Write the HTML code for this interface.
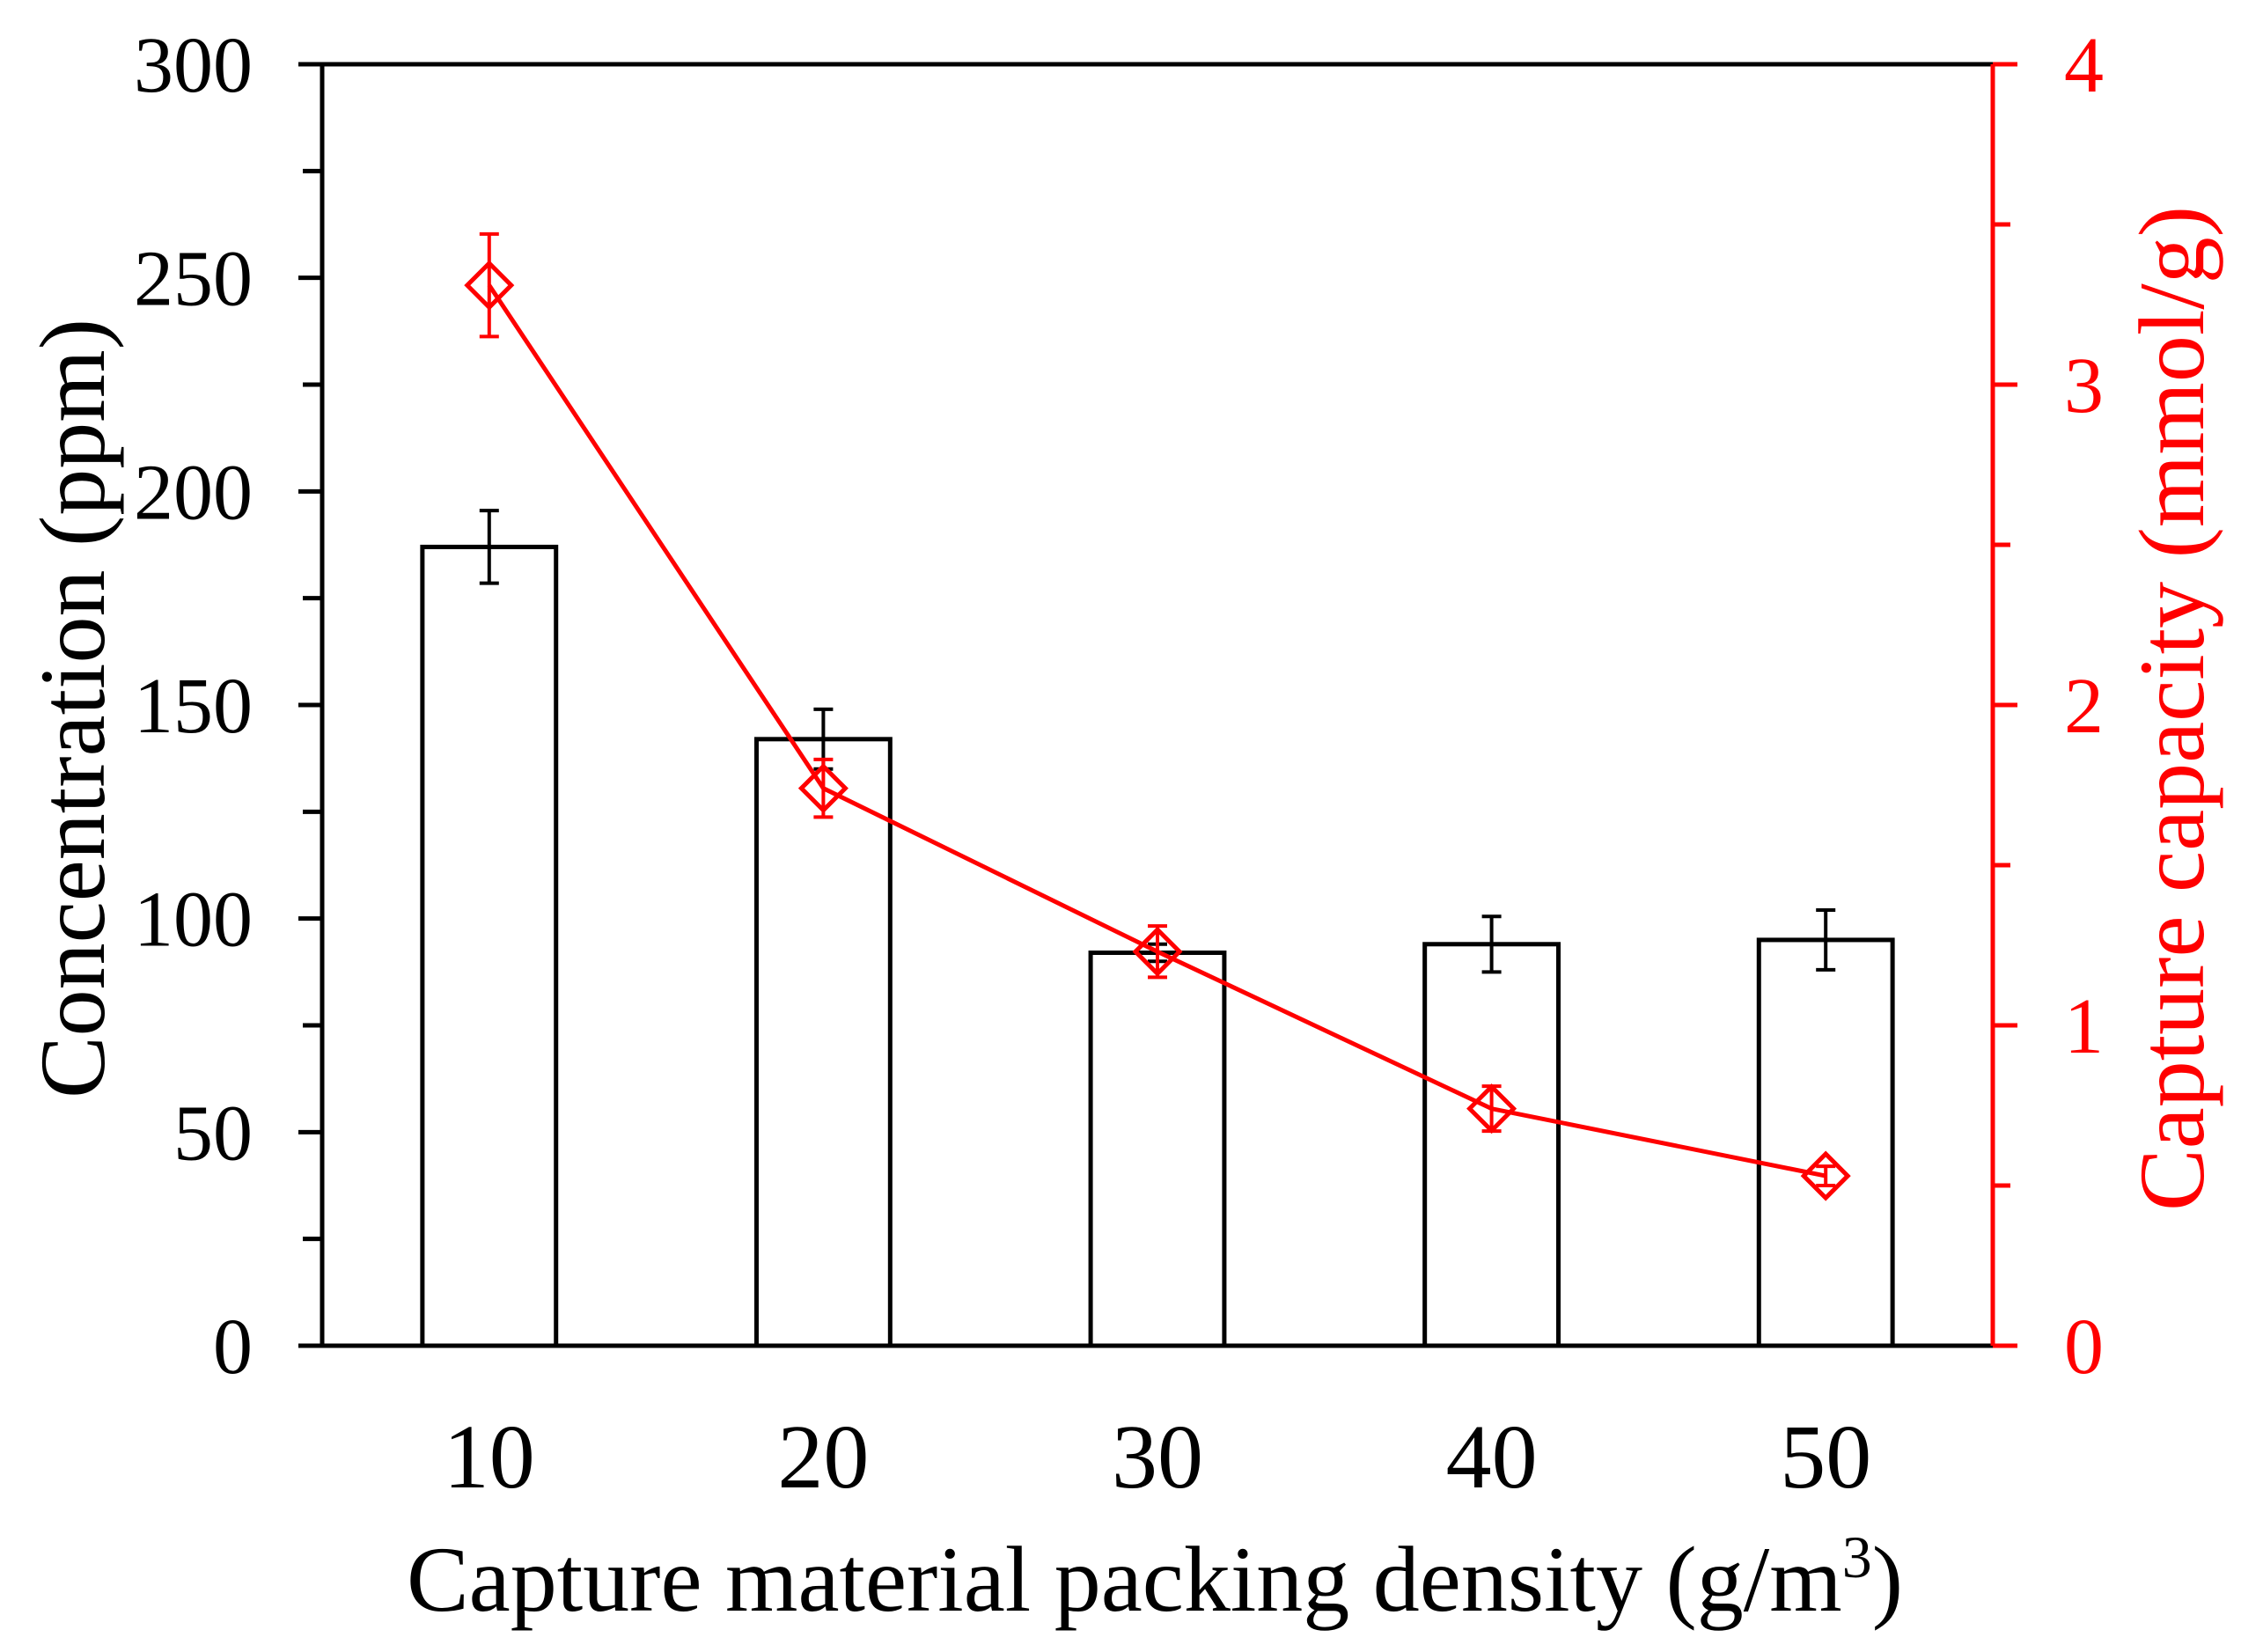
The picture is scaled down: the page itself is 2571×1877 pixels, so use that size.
<!DOCTYPE html>
<html><head><meta charset="utf-8"><style>html,body{margin:0;padding:0;background:#fff}svg{display:block}</style></head>
<body>
<svg id="chart" width="2571" height="1877" viewBox="0 0 2571 1877" xmlns="http://www.w3.org/2000/svg" font-family="'Liberation Serif', serif" style="position:absolute;left:0;top:0">
</svg>
<script>
const categories = ["10","20","30","40","50"];
const concValues = [187, 142, 92, 94, 95];
const concErrors = [8.5, 7, 2, 6.5, 7];
const capValues = [3.31, 1.74, 1.23, 0.74, 0.53];
const capErrors = [0.16, 0.09, 0.08, 0.07, 0.03];
const leftTicks = [0,50,100,150,200,250,300];
const rightTicks = [0,1,2,3,4];

const L=366,R=2264,T=73,B=1529;
const svg=document.getElementById('chart');
const NS='http://www.w3.org/2000/svg';
function mk(tag,attrs,parent){const e=document.createElementNS(NS,tag);for(const k in attrs)e.setAttribute(k,attrs[k]);(parent||svg).appendChild(e);return e;}
const band=(R-L)/categories.length;
const xc=i=>L+(i+0.5)*band;
const yL=v=>B-(v/300)*(B-T);
const yR=v=>B-(v/4)*(B-T);

categories.forEach((c,i)=>{
  const w=band*0.4, y=yL(concValues[i]);
  const r=mk('rect',{x:xc(i)-w/2,y:y,width:w,height:B-y,fill:'#fff',stroke:'#000','stroke-width':5});
  
  
  const e1=yL(concValues[i]+concErrors[i]), e2=yL(concValues[i]-concErrors[i]);
  const g=mk('path',{d:`M${xc(i)},${e1}V${e2}M${xc(i)-11},${e1}H${xc(i)+11}M${xc(i)-11},${e2}H${xc(i)+11}`,stroke:'#000','stroke-width':4,fill:'none'});
  
  
});

const fr=mk('path',{d:`M${L},${T}H${R}M${L},${T}V${B}H${R}`,stroke:'#000','stroke-width':5,fill:'none'});


const ra=mk('line',{x1:R,y1:T,x2:R,y2:B,stroke:'#ff0000','stroke-width':5});



for(let v=0;v<=300;v+=25){
  const major=v%50===0;
  const t=mk('line',{x1:L-(major?27:22),x2:L,y1:yL(v),y2:yL(v),stroke:'#000','stroke-width':5});
  
  
}
leftTicks.forEach(v=>{
  const t=mk('text',{x:287,y:yL(v)+31,'text-anchor':'end','font-size':90,fill:'#000'});
  t.textContent=v;
  
  
});
for(let v=0;v<=4;v+=0.5){
  const major=v%1===0;
  const t=mk('line',{x1:R,x2:R+(major?28:20),y1:yR(v),y2:yR(v),stroke:'#ff0000','stroke-width':5});
  
  
}
rightTicks.forEach(v=>{
  const t=mk('text',{x:2345,y:yR(v)+31,'text-anchor':'start','font-size':90,fill:'#ff0000'});
  t.textContent=v;
  
  
});
categories.forEach((c,i)=>{
  const t=mk('text',{x:xc(i),y:1690,'text-anchor':'middle','font-size':104,fill:'#000'});
  t.textContent=c;
  
  
});

const pts=capValues.map((v,i)=>`${xc(i)},${yR(v)}`).join(' ');
const pl=mk('polyline',{points:pts,fill:'none',stroke:'#ff0000','stroke-width':5});


capValues.forEach((v,i)=>{
  const x=xc(i),y=yR(v),e1=yR(v+capErrors[i]),e2=yR(v-capErrors[i]);
  const eb=mk('path',{d:`M${x},${e1}V${e2}M${x-11},${e1}H${x+11}M${x-11},${e2}H${x+11}`,stroke:'#ff0000','stroke-width':4,fill:'none'});
  
  
  const d=25;
  const m=mk('path',{d:`M${x},${y-d}L${x+d},${y}L${x},${y+d}L${x-d},${y}Z`,stroke:'#ff0000','stroke-width':5,fill:'none'});
  
  
});
</script>
<div style="position:absolute;left:0;top:0;width:2571px;height:1877px;pointer-events:none">
<svg width="2571" height="1877" xmlns="http://www.w3.org/2000/svg" font-family="'Liberation Serif', serif">
<text x="1312" y="1830" text-anchor="middle" font-size="106" fill="#000">Capture material packing density (g/m<tspan dy="-38" font-size="68">3</tspan><tspan dy="38">)</tspan></text>
<text transform="translate(118,805) rotate(-90)" text-anchor="middle" font-size="106" fill="#000">Concentration (ppm)</text>
<text transform="translate(2503,805) rotate(-90)" text-anchor="middle" font-size="106" fill="#ff0000">Capture capacity (mmol/g)</text>
</svg>
</div>
</body></html>
